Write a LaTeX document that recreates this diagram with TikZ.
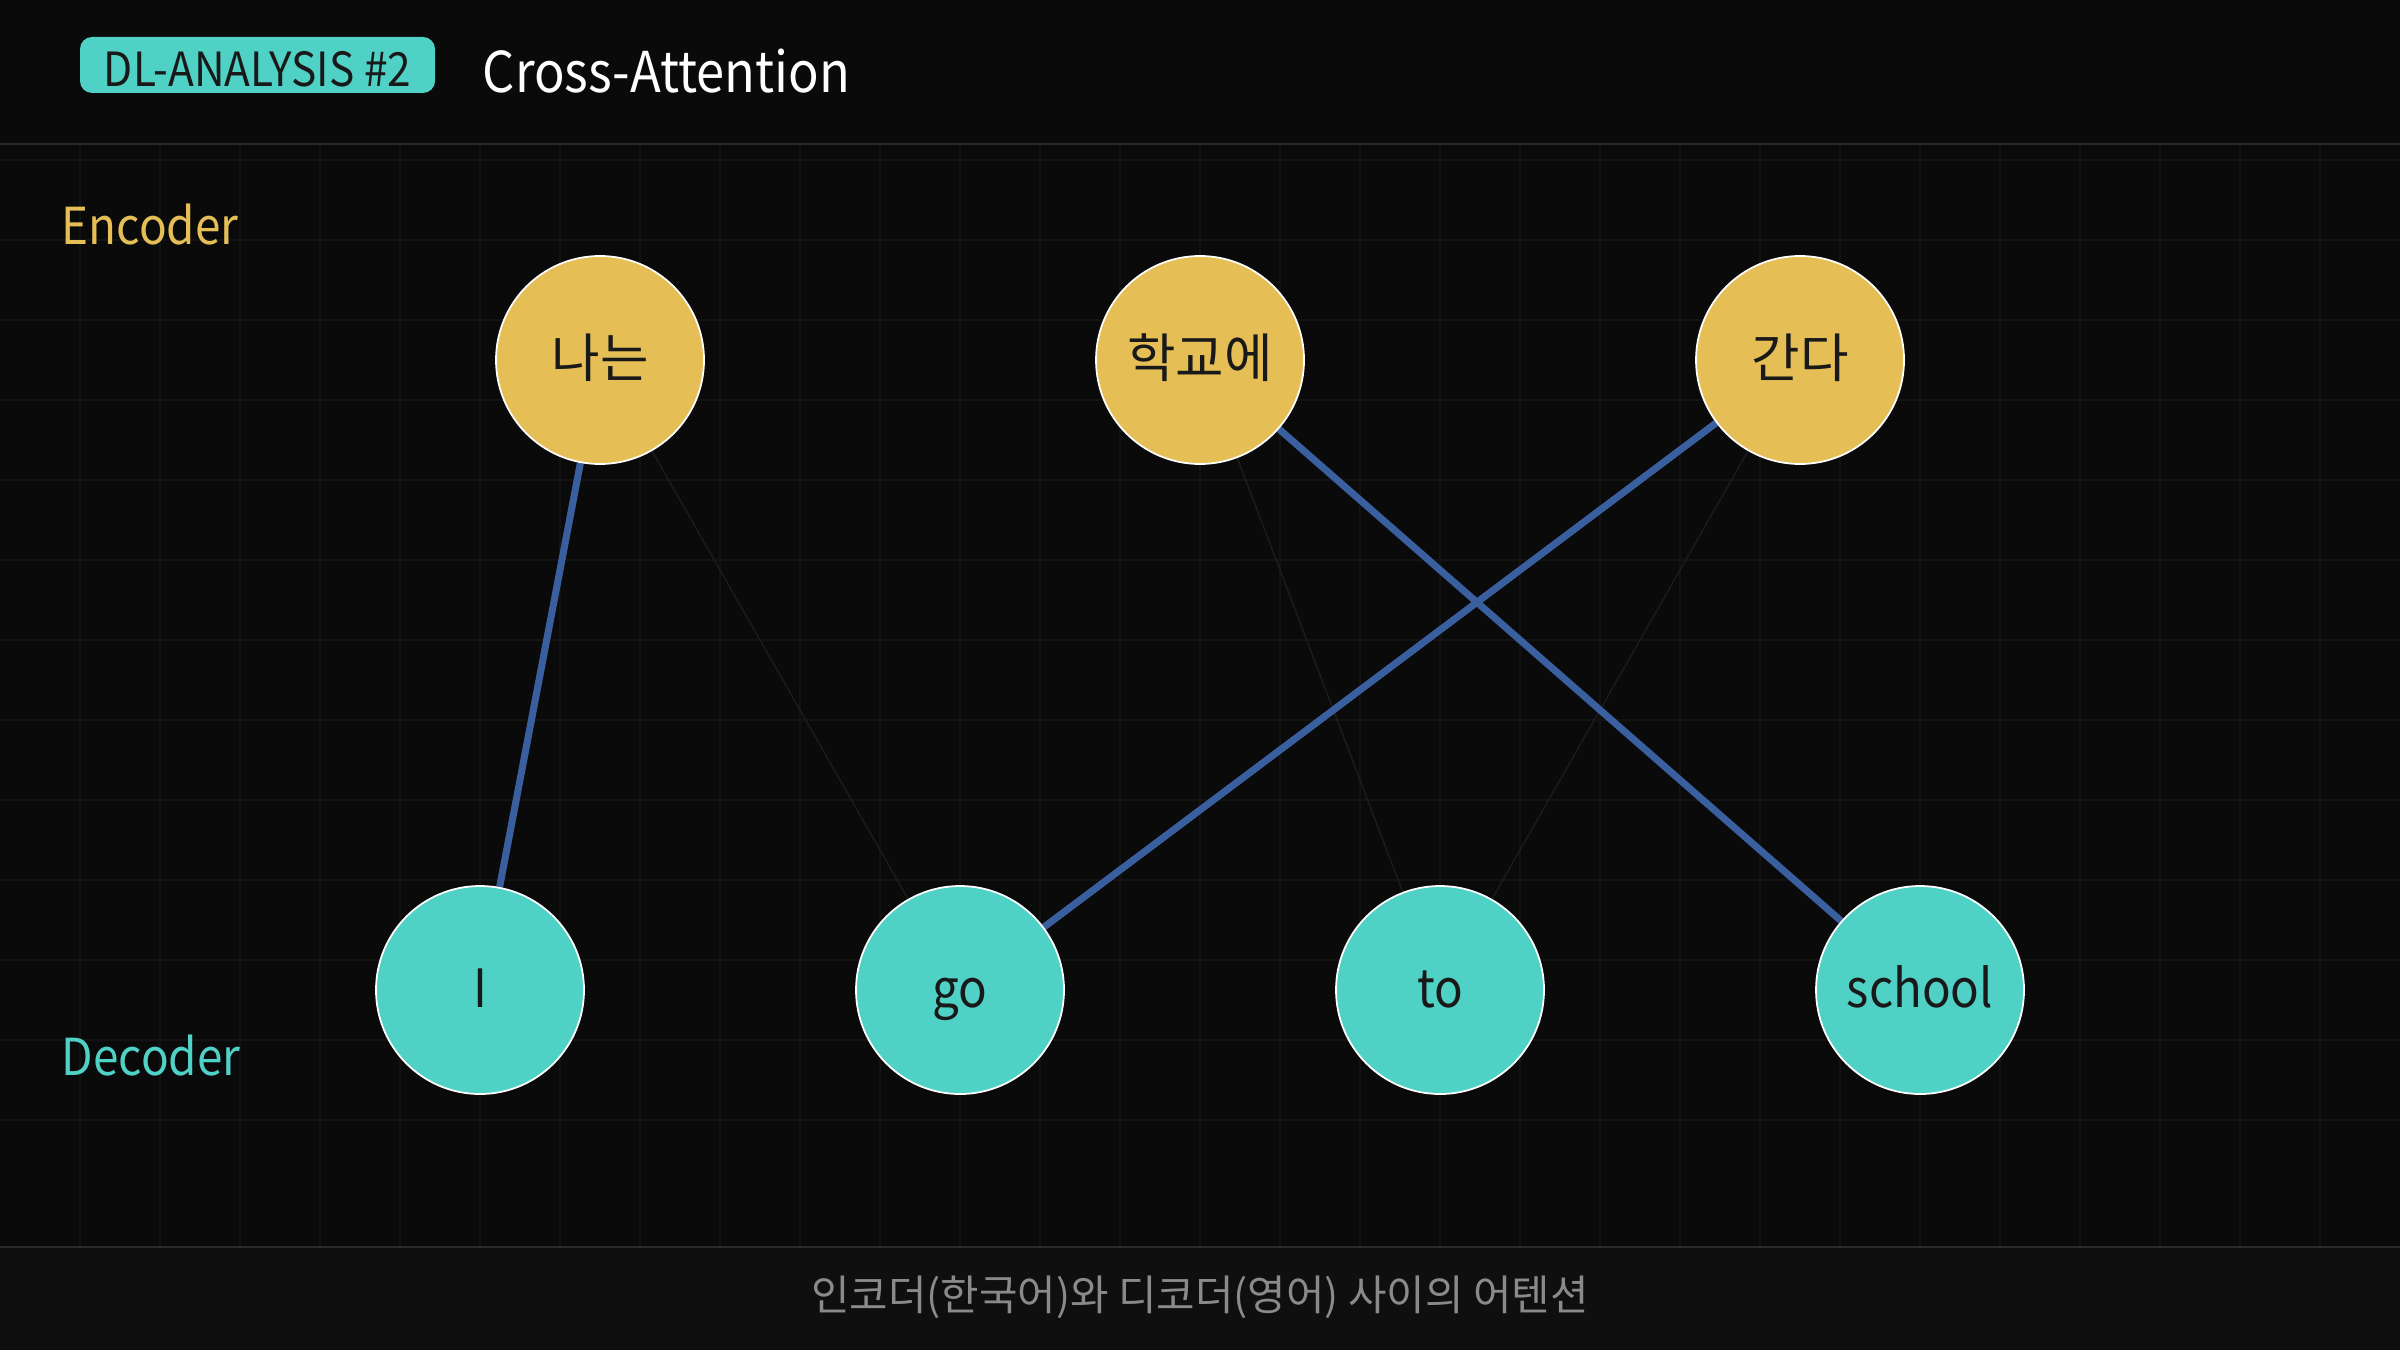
\documentclass[tikz,border=0pt]{standalone}
\usepackage{fontspec}
\setmainfont{Noto Sans CJK KR}
\newfontfamily\latinfont[FakeStretch=0.9]{Noto Sans CJK KR}
\usetikzlibrary{backgrounds}
\definecolor{bgdark}{HTML}{0A0A0A}
\definecolor{footbg}{HTML}{0F0F0F}
\definecolor{gridgray}{HTML}{131313}
\definecolor{rulegray}{HTML}{2A2A2A}
\definecolor{encgold}{HTML}{E5BE55}
\definecolor{decteal}{HTML}{4FD1C5}
\definecolor{attblue}{HTML}{3A5F9F}
\definecolor{faintline}{HTML}{1C1C1C}
\definecolor{captiongray}{HTML}{8A8A8A}
\tikzset{
  token/.style={circle, draw=white, line width=0.5pt, minimum size=2.08cm,
    inner sep=0pt, text=black!90, text height=1.05em, text depth=0.03em},
  enc/.style={token, fill=encgold, font=\fontsize{15}{18}\selectfont},
  dec/.style={token, fill=decteal, font=\latinfont\fontsize{15}{18}\selectfont},
  strong/.style={attblue, line width=2pt},
  weak/.style={faintline, line width=0.4pt}
}
\begin{document}
\begin{tikzpicture}
        \useasboundingbox (0,0) rectangle (24,13.5);
        % header
        \node[fill=decteal, rounded corners=0.12cm, minimum width=3.55cm, minimum height=0.56cm,
          text height=1.25em, text depth=0pt, inner sep=0pt,
          text=black!90, font=\latinfont\fontsize{13.4}{16}\selectfont] (badge) at (2.575,12.85) {DL-ANALYSIS \#2};
        \node[anchor=west, text=white, font=\latinfont\fontsize{16}{19}\selectfont, inner sep=0pt] (title) at (4.82,12.79) {Cross-Attention};
        \node[anchor=west, text=encgold, font=\latinfont\fontsize{14.5}{17}\selectfont, inner sep=0pt] (enclabel) at (0.61,11.25) {Encoder};
        \node[anchor=west, text=decteal, font=\latinfont\fontsize{14.5}{17}\selectfont, inner sep=0pt] (declabel) at (0.61,2.94) {Decoder};
        % tokens
        \node[enc] (na) at (6,9.9) {나는};
        \node[enc] (hak) at (12,9.9) {학교에};
        \node[enc] (gan) at (18,9.9) {간다};
        \node[dec] (i) at (4.8,3.6) {I};
        \node[dec] (go) at (9.6,3.6) {go};
        \node[dec] (to) at (14.4,3.6) {to};
        \node[dec] (school) at (19.2,3.6) {school};
        \node[text=captiongray, font=\fontsize{11.9}{14}\selectfont] (caption) at (12,0.53) {인코더(한국어)와 디코더(영어) 사이의 어텐션};
        \begin{pgfonlayer}{background}
        \fill[bgdark] (0,0) rectangle (24,13.5);
        \fill[footbg] (0,0) rectangle (24,1.03);
        % grid
        \foreach \x in {0.8,1.6,...,23.3} \draw[gridgray, line width=0.4pt] (\x,1.03) -- (\x,12.06);
        \foreach \k in {2,...,14} \draw[gridgray, line width=0.4pt] (0,13.5-0.8*\k) -- (24,13.5-0.8*\k);
        \draw[rulegray, line width=0.6pt] (0,12.06) -- (24,12.06);
        \draw[rulegray, line width=0.6pt] (0,1.03) -- (24,1.03);
        % attention
        \draw[weak] (na) -- (go);
        \draw[weak] (hak) -- (to);
        \draw[weak] (gan) -- (to);
        \draw[strong] (na) -- (i);
        \draw[strong] (hak) -- (school);
        \draw[strong] (gan) -- (go);
        \end{pgfonlayer}
    \end{tikzpicture}
\end{document}
